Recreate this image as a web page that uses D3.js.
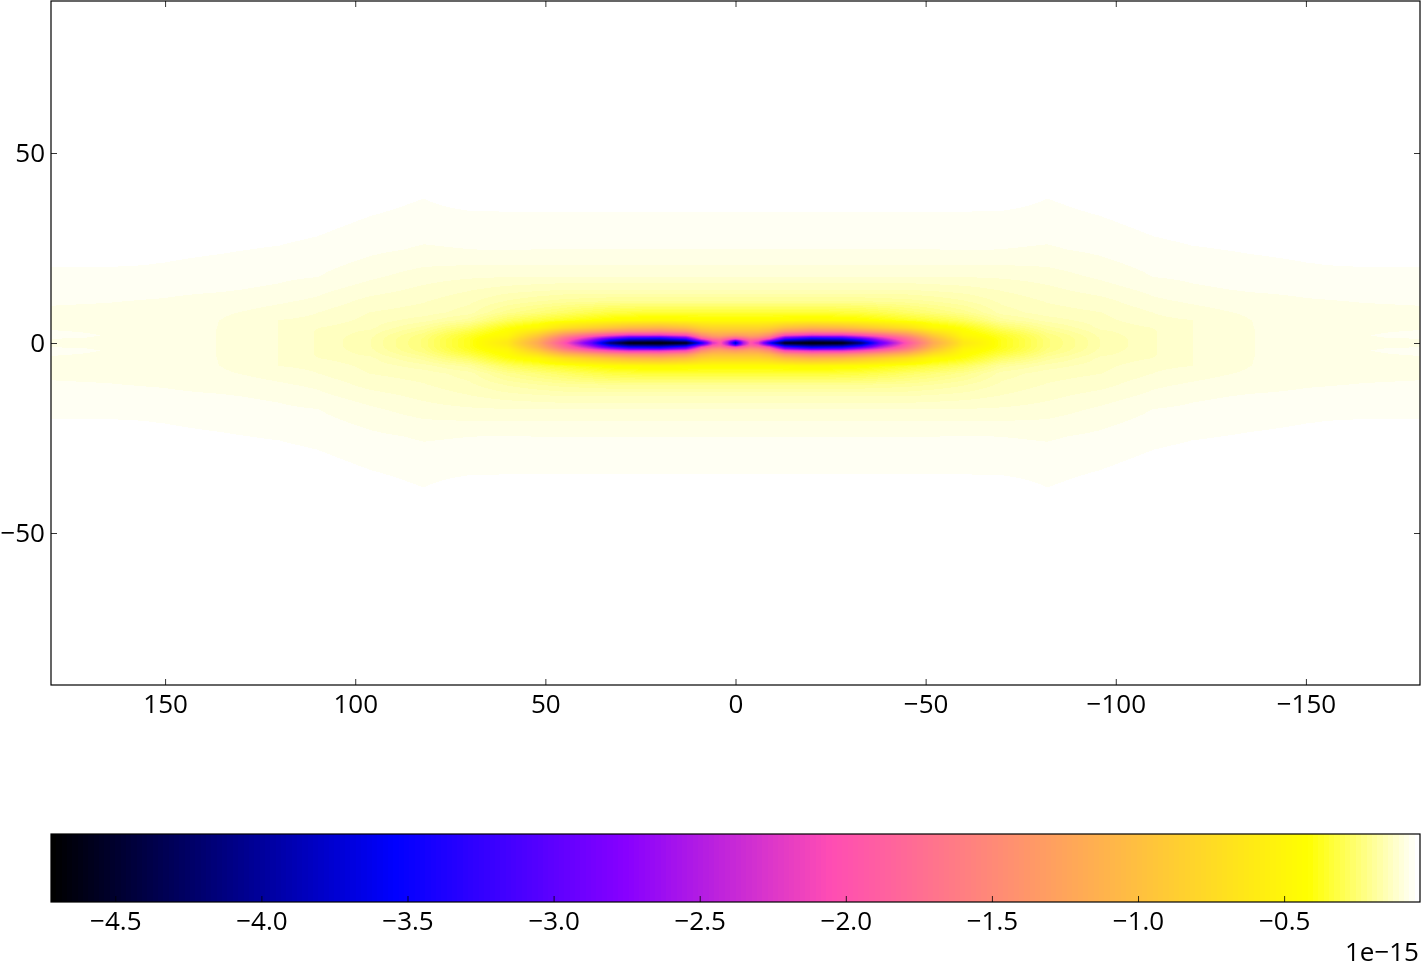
<!DOCTYPE html>
<html>
<head>
<meta charset="utf-8">
<script src="https://cdn.jsdelivr.net/npm/d3@7"></script>
<style>
html,body{margin:0;padding:0;background:#fff;overflow:hidden}
#wrap{position:relative;width:1422px;height:962px}
canvas,svg{position:absolute;left:0;top:0}
text{font-family:"Open Sans",sans-serif;font-size:26px;fill:#000}
</style>
</head>
<body>
<div id="wrap"></div>
<script>
// Half-grid of the field (mirrored in longitude and latitude when drawn)
const lats = [0, 0.5, 1, 1.5, 2, 3, 4, 6, 8, 11, 14, 17.5, 20.5, 24.5, 34.5, 42, 90];
const lons = [0, 2, 4, 6, 9, 13, 20, 28, 33, 38, 45, 52, 60, 70, 82, 96, 110, 120, 135, 150, 165, 180];
// One row per longitude, one value per latitude (units of 1e-15)
const field = [
 [-3.9,-3.2,-2.2,-1.7,-1.35,-1.0,-.8,-.45,-.34,-.2,-.145,-.108,-.09,-.072,-.0535,-.03,0],
 [-2.6,-2.4,-1.95,-1.6,-1.3,-1.0,-.8,-.45,-.34,-.2,-.145,-.108,-.09,-.072,-.0535,-.03,0],
 [-2.0,-1.9,-1.7,-1.45,-1.25,-1.0,-.8,-.45,-.34,-.2,-.145,-.108,-.09,-.072,-.0535,-.03,0],
 [-2.3,-2.1,-1.8,-1.5,-1.3,-1.0,-.8,-.45,-.34,-.2,-.145,-.108,-.09,-.072,-.0535,-.03,0],
 [-3.5,-2.9,-2.2,-1.8,-1.5,-1.1,-.85,-.45,-.34,-.2,-.145,-.108,-.09,-.072,-.0535,-.03,0],
 [-4.65,-4.0,-3.3,-2.7,-2.1,-1.4,-1.0,-.46,-.34,-.2,-.145,-.108,-.09,-.072,-.0535,-.03,0],
 [-4.72,-4.3,-3.7,-3.1,-2.3,-1.55,-1.1,-.48,-.34,-.2,-.145,-.108,-.09,-.072,-.0535,-.03,0],
 [-4.7,-4.2,-3.6,-3.0,-2.3,-1.5,-1.05,-.46,-.33,-.2,-.145,-.108,-.09,-.072,-.0535,-.03,0],
 [-4.2,-3.7,-3.2,-2.6,-2.1,-1.4,-.95,-.44,-.32,-.2,-.145,-.108,-.09,-.072,-.0535,-.03,0],
 [-3.0,-2.8,-2.5,-2.2,-1.85,-1.25,-.85,-.41,-.3,-.195,-.145,-.108,-.09,-.072,-.0535,-.03,0],
 [-2.0,-1.9,-1.8,-1.65,-1.45,-1.05,-.7,-.37,-.27,-.19,-.145,-.108,-.09,-.072,-.0535,-.03,0],
 [-1.2,-1.15,-1.1,-1.0,-.9,-.68,-.48,-.33,-.24,-.18,-.14,-.108,-.09,-.072,-.0535,-.03,0],
 [-.62,-.6,-.56,-.52,-.48,-.44,-.4,-.28,-.21,-.165,-.135,-.107,-.09,-.071,-.0535,-.03,0],
 [-.38,-.38,-.38,-.37,-.36,-.32,-.27,-.19,-.155,-.14,-.125,-.105,-.09,-.072,-.054,-.035,0],
 [-.24,-.24,-.24,-.235,-.23,-.21,-.19,-.155,-.135,-.125,-.113,-.1,-.088,-.074,-.058,-.048,0],
 [-.163,-.163,-.162,-.16,-.157,-.15,-.14,-.133,-.127,-.115,-.1,-.086,-.077,-.068,-.0515,-.04,0],
 [-.128,-.128,-.128,-.128,-.128,-.128,-.126,-.113,-.108,-.094,-.084,-.071,-.066,-.059,-.043,-.03,0],
 [-.1085,-.1085,-.1085,-.1085,-.1085,-.1085,-.1085,-.1085,-.098,-.087,-.075,-.068,-.062,-.055,-.04,-.03,0],
 [-.0905,-.0905,-.0905,-.0905,-.0905,-.0905,-.0905,-.0905,-.087,-.078,-.07,-.063,-.057,-.052,-.04,-.03,0],
 [-.085,-.085,-.085,-.085,-.085,-.085,-.084,-.08,-.077,-.073,-.068,-.061,-.054,-.05,-.04,-.03,0],
 [-.08,-.08,-.078,-.074,-.0725,-.074,-.077,-.077,-.075,-.071,-.066,-.06,-.052,-.05,-.04,-.03,0],
 [-.077,-.077,-.073,-.066,-.066,-.07,-.074,-.075,-.074,-.07,-.065,-.059,-.052,-.05,-.04,-.03,0]
];
const xTicks = [150, 100, 50, 0, -50, -100, -150];
const yTicks = [50, 0, -50];
const barTicks = [-4.5, -4.0, -3.5, -3.0, -2.5, -2.0, -1.5, -1.0, -0.5];
const colorStops = [0, 0.25, 0.42, 0.57, 0.92, 1];
const colorValues = ["#000000", "#0000ff", "#8800ff", "#ff4db3", "#ffff00", "#ffffff"];
const vMin = -4.72, vMax = -0.035, levels = 256;
const offsetLabel = "1e\u221215";

const fmt = d => String(d).replace("-", "\u2212");
const fmt1 = d => d3.format(".1f")(d).replace(/[-\u2212]/, "\u2212");

const plot = {left: 51, right: 1420, top: 1, bottom: 685};
const bar = {top: 834, bottom: 902};
const x = d3.scaleLinear().domain([180, -180]).range([plot.left, plot.right]);
const y = d3.scaleLinear().domain([-90, 90]).range([plot.bottom, plot.top]);
const barX = d3.scaleLinear().domain([vMin, vMax]).range([plot.left, plot.right]);

const ramp = d3.scaleLinear().domain(colorStops).range(colorValues).interpolate(d3.interpolateRgb);
const lut = d3.range(levels).map(i => d3.rgb(ramp(i / (levels - 1))));
const level = v => Math.max(0, Math.min(levels - 1, Math.floor((v - vMin) / (vMax - vMin) * levels)));

function sample(lon, lat) {
  const a = Math.min(180, Math.abs(lon)), b = Math.min(90, Math.abs(lat));
  const i = Math.max(0, Math.min(lons.length - 2, d3.bisectRight(lons, a) - 1));
  const j = Math.max(0, Math.min(lats.length - 2, d3.bisectRight(lats, b) - 1));
  const t = (a - lons[i]) / (lons[i + 1] - lons[i]);
  const u = (b - lats[j]) / (lats[j + 1] - lats[j]);
  return (1 - t) * (1 - u) * field[i][j] + t * (1 - u) * field[i + 1][j]
       + (1 - t) * u * field[i][j + 1] + t * u * field[i + 1][j + 1];
}

const wrap = d3.select("#wrap");
const canvas = wrap.append("canvas").attr("width", 1422).attr("height", 962);
const ctx = canvas.node().getContext("2d");
const img = ctx.createImageData(plot.right - plot.left, plot.bottom - plot.top);
for (let py = 0; py < img.height; py++) {
  const lat = y.invert(plot.top + py + 0.5);
  for (let px = 0; px < img.width; px++) {
    const c = lut[level(sample(x.invert(plot.left + px + 0.5), lat))];
    const k = (py * img.width + px) * 4;
    img.data[k] = c.r; img.data[k + 1] = c.g; img.data[k + 2] = c.b; img.data[k + 3] = 255;
  }
}
ctx.putImageData(img, plot.left, plot.top);

const svg = wrap.append("svg").attr("width", 1422).attr("height", 962);

// colour bar
const step = (vMax - vMin) / levels;
const edge = i => Math.round(barX(vMin + i * step));
svg.append("g").attr("shape-rendering", "crispEdges")
  .selectAll("rect").data(d3.range(levels)).join("rect")
  .attr("x", i => edge(i))
  .attr("y", bar.top)
  .attr("width", i => edge(i + 1) - edge(i))
  .attr("height", bar.bottom - bar.top)
  .attr("fill", i => lut[i].formatHex());

const style = g => {
  g.select(".domain").remove();
  g.selectAll("line").attr("stroke", "#000").attr("stroke-width", 0.8);
  g.selectAll("text").attr("fill", "#000").style("font-size", "26px").style("font-family", '"Open Sans",sans-serif');
};

svg.append("g").attr("transform", `translate(0,${plot.bottom})`)
  .call(d3.axisBottom(x).tickValues(xTicks).tickFormat(fmt).tickSizeInner(-6).tickSizeOuter(0).tickPadding(10)).call(style);
svg.append("g").attr("transform", `translate(0,${plot.top})`)
  .call(d3.axisTop(x).tickValues(xTicks).tickFormat("").tickSizeInner(-6).tickSizeOuter(0)).call(style);
svg.append("g").attr("transform", `translate(${plot.left},0)`)
  .call(d3.axisLeft(y).tickValues(yTicks).tickFormat(fmt).tickSizeInner(-6).tickSizeOuter(0).tickPadding(6)).call(style);
svg.append("g").attr("transform", `translate(${plot.right},0)`)
  .call(d3.axisRight(y).tickValues(yTicks).tickFormat("").tickSizeInner(-6).tickSizeOuter(0)).call(style);
svg.append("g").attr("transform", `translate(0,${bar.bottom})`)
  .call(d3.axisBottom(barX).tickValues(barTicks).tickFormat(fmt1).tickSizeInner(-6).tickSizeOuter(0).tickPadding(10)).call(style);

svg.append("rect").attr("x", plot.left).attr("y", plot.top)
  .attr("width", plot.right - plot.left).attr("height", plot.bottom - plot.top)
  .attr("fill", "none").attr("stroke", "#000").attr("stroke-width", 1.2);
svg.append("rect").attr("x", plot.left).attr("y", bar.top)
  .attr("width", plot.right - plot.left).attr("height", bar.bottom - bar.top)
  .attr("fill", "none").attr("stroke", "#000").attr("stroke-width", 1.2);

svg.append("text").attr("x", plot.right - 1).attr("y", 961).attr("text-anchor", "end").text(offsetLabel);
</script>
</body>
</html>
